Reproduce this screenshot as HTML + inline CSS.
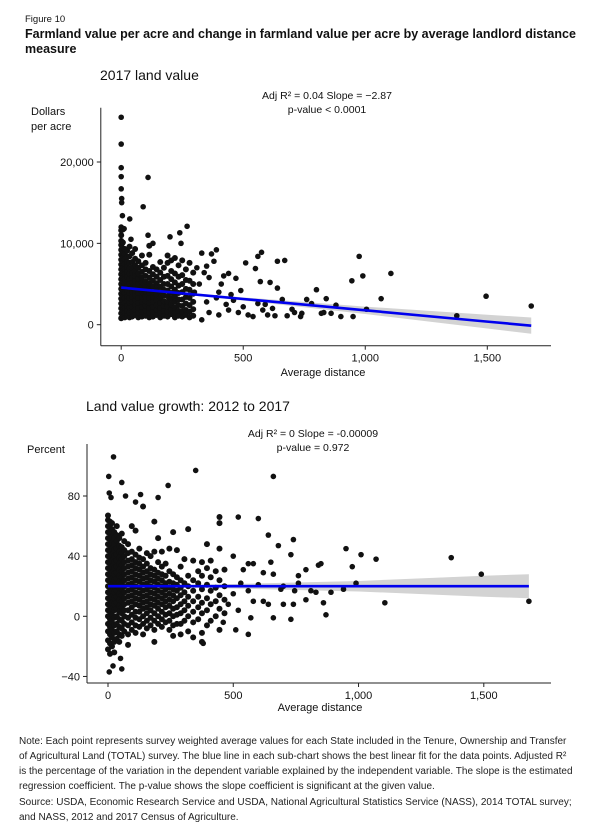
<!DOCTYPE html>
<html><head><meta charset="utf-8"><style>
html,body{margin:0;padding:0;background:#fff;}
svg{display:block;font-family:"Liberation Sans",Arial,sans-serif;}
</style></head><body>
<svg id="fig" width="600" height="833" viewBox="0 0 600 833" xmlns="http://www.w3.org/2000/svg">
<text x="25" y="22" font-size="9.5" fill="#111">Figure 10</text>
<text x="25" y="38" font-size="12.5" font-weight="bold" fill="#111">Farmland value per acre and change in farmland value per acre by average landlord distance</text>
<text x="25" y="53" font-size="12.5" font-weight="bold" fill="#111">measure</text>

<g id="c1">
<text x="100" y="80" font-size="14" fill="#111">2017 land value</text>
<text x="327" y="99" font-size="10.5" text-anchor="middle" fill="#111">Adj R² =  0.04  Slope = −2.87</text>
<text x="327" y="113" font-size="10.5" text-anchor="middle" fill="#111">p-value &lt; 0.0001</text>
<text x="31" y="115" font-size="11" fill="#111">Dollars</text>
<text x="31" y="130" font-size="11" fill="#111">per acre</text>
<text x="323" y="376" font-size="11" text-anchor="middle" fill="#111">Average distance</text>
</g>

<g id="c2">
<text x="86" y="411" font-size="14" fill="#111">Land value growth: 2012 to 2017</text>
<text x="313" y="437" font-size="10.5" text-anchor="middle" fill="#111">Adj R² =  0  Slope = -0.00009</text>
<text x="313" y="451" font-size="10.5" text-anchor="middle" fill="#111">p-value = 0.972</text>
<text x="27" y="453" font-size="11" fill="#111">Percent</text>
<text x="320" y="711" font-size="11" text-anchor="middle" fill="#111">Average distance</text>
</g>

<g font-size="10" fill="#222">
<text x="19" y="744">Note:  Each point represents survey weighted average values for each State included in the Tenure, Ownership and Transfer</text>
<text x="19" y="759">of Agricultural Land (TOTAL) survey. The blue line in each sub-chart shows the best linear fit for the data points. Adjusted R²</text>
<text x="19" y="774">is the percentage of the variation in the dependent variable explained by the independent variable. The slope is the estimated</text>
<text x="19" y="789">regression coefficient. The p-value shows the slope coefficient is significant at the given value.</text>
<text x="19" y="805">Source: USDA, Economic Research Service and USDA, National Agricultural Statistics Service (NASS), 2014 TOTAL survey;</text>
<text x="19" y="820">and NASS, 2012 and 2017 Census of Agriculture.</text>
</g>
</svg>
<script>
// ---------- Chart 1 data ----------
const c1XTicks = [0, 500, 1000, 1500];
const c1XTickLabels = ["0", "500", "1,000", "1,500"];
const c1YTicks = [0, 10000, 20000];
const c1YTickLabels = ["0", "10,000", "20,000"];
const c1ClusterX = [0,7,15,24,34,45,57,70,85,100,115,130,145,160,175,190,205,220,235,250,265,280,295];
const c1ClusterY = [
 [800,1400,2000,2600,3200,3800,4400,5000,5600,6200,6800,7400,8000,8600,9200,9800,10300,11000,11600],
 [1000,1600,2200,2800,3400,4000,4600,5200,5800,6400,7000,7600,8200,8800,9400,10100],
 [900,1500,2100,2700,3300,3900,4500,5100,5700,6300,6900,7500,8100,8700,9300],
 [1100,1700,2300,2900,3500,4100,4700,5300,5900,6500,7100,7700,8300,9100],
 [900,1500,2100,2700,3300,3900,4500,5100,5700,6300,6900,7600,8400,9600],
 [1000,1600,2200,2800,3400,4000,4600,5200,5800,6400,7000,7700,8800],
 [1200,1800,2400,3000,3600,4200,4800,5400,6000,6600,7300,8100,9300],
 [900,1500,2100,2700,3300,3900,4500,5100,5700,6300,7000,7800],
 [1000,1600,2200,2800,3400,4000,4600,5200,5800,6500,7300,8500],
 [1100,1700,2300,2900,3500,4100,4700,5300,6000,6800,7600],
 [900,1500,2100,2700,3300,3900,4500,5100,5800,6600,8600,9700],
 [1000,1600,2200,2800,3400,4000,4700,5400,6200,7100],
 [1200,1800,2400,3000,3700,4400,5100,5900,6800],
 [900,1500,2100,2700,3300,4000,4700,5500,6400,7700],
 [1100,1700,2300,2900,3600,4300,5000,5900,7000],
 [1000,1600,2200,2800,3500,4200,5000,6000,7600,8500],
 [1300,1900,2500,3200,3900,4700,5600,6600,7900],
 [900,1500,2100,2800,3500,4300,5200,6300,8200],
 [1100,1700,2400,3100,3900,4800,5900,7300],
 [1000,1600,2300,3100,4000,5000,6100,7900],
 [1200,1800,2600,3400,4400,5500,6800],
 [900,1600,2400,3300,4300,5400,7600],
 [1100,1900,2800,3800,5000,6400]
];
const c1OutX = [0,0,0,0,0,2,2,5,35,0,8,12,110,90,110,130,200,240,270,40,245,330,370,390,380,350,310,420,400,450,470,490,510,550,560,575,570,610,640,670,640,660,590,620,700,680,740,735,760,800,840,880,900,950,945,975,990,1005,1065,1105,1375,1495,1680,820,860,540,520,480,440,600,630,710,780,830,330,360,400,430,460,500,560,580,350,390,410,440,300,320,340,360];
const c1OutY = [25500,22200,19300,18200,16700,15500,15000,13400,13000,12000,11700,11800,18100,14500,11000,10000,10800,11300,12100,10500,10000,8800,8700,9200,7800,7200,7000,6000,4000,3700,5700,4200,7600,6900,8400,8900,5300,5200,7800,7900,4500,3100,2500,2000,1900,1100,1400,1000,3100,4300,3200,2400,1000,1000,5400,8400,6000,1900,3200,6300,1100,3500,2300,1400,1400,1000,1200,1500,1800,1200,1100,1500,2600,1500,600,1500,1200,2500,3000,2200,2600,1800,2800,3300,5000,6300,4000,5000,6400,5800];
const c1BandX = [0,150,500,1000,1500,1680];
const c1Fit = [4560,4140,3160,1770,380,-120];
const c1BandHalf = [250,120,200,450,850,1000];

// ---------- Chart 2 data ----------
const c2XTicks = [0, 500, 1000, 1500];
const c2XTickLabels = ["0", "500", "1,000", "1,500"];
const c2YTicks = [-40, 0, 40, 80];
const c2YTickLabels = ["−40", "0", "40", "80"];
const c2ClusterX = [0,8,16,25,35,45,55,65,80,95,110,125,140,155,170,185,200,215,230,245,260,275,290,305,320,340,360,375,395,410,430,445,465];
const c2ClusterY = [
 [-22,-16,-10,-5,0,4,8,12,16,20,24,28,32,36,40,44,48,52,56,60,64,67],
 [-25,-18,-12,-7,-2,3,7,11,15,19,23,27,31,35,39,43,47,51,55,59,63],
 [-20,-14,-9,-4,1,5,9,13,17,21,25,29,33,37,41,45,49,53,58,62],
 [-24,-17,-11,-6,-1,4,8,12,16,20,24,28,32,36,40,44,48,52,56],
 [-15,-10,-5,0,5,9,13,17,21,25,29,33,37,41,45,50,54,60],
 [-17,-12,-7,-2,3,7,11,15,19,23,27,31,35,39,43,47,52],
 [-13,-8,-3,2,6,10,14,18,22,26,30,34,38,42,46,55],
 [-10,-5,0,4,8,12,16,20,24,28,32,36,40,44,50],
 [-19,-12,-6,-1,4,9,13,17,21,25,29,33,37,42,48],
 [-9,-4,1,6,10,14,18,22,26,30,34,38,43,60],
 [-11,-6,-1,3,8,12,16,20,24,28,32,36,41,57],
 [-7,-2,3,7,11,15,19,23,27,31,35,39,45],
 [-12,-5,0,5,9,13,17,21,25,29,33,38,73],
 [-8,-3,2,6,10,14,18,22,26,30,35,42],
 [-6,-1,4,8,12,16,20,24,28,32,40],
 [-17,-9,-3,2,7,11,15,19,23,27,31,43,63],
 [-5,0,5,9,13,17,21,25,29,36,52],
 [-7,-2,3,8,12,16,20,24,28,33,43],
 [-4,1,6,10,14,18,22,27,35],
 [-9,-3,2,7,11,15,19,23,30,45],
 [-13,-6,0,5,10,14,18,22,28,56],
 [-5,1,6,12,17,21,26,44],
 [-12,-5,2,8,14,19,24,33],
 [-3,4,10,16,22,38],
 [-10,0,7,13,20,27,58],
 [-14,-4,3,10,17,24,37],
 [-2,6,13,22,30],
 [-17,-11,2,9,18,27,36],
 [-6,4,12,21,32,48],
 [-3,8,17,26,37],
 [0,10,19,30],
 [-9,5,14,24,45,62,66],
 [2,11,20,31]
];
const c2OutX = [22,3,55,240,350,660,5,70,200,130,110,12,520,600,640,740,680,730,950,1010,1070,1370,1490,1680,1105,975,840,790,760,830,890,860,870,730,660,560,380,5,20,55,50,500,540,560,580,620,650,660,700,600,580,620,640,700,740,790,570,520,480,500,530,560,940,990,745,760,810,850,690,510,460];
const c2OutY = [106,93,89,87,97,93,82,80,79,81,76,79,66,65,54,51,47,41,45,41,38,39,28,10,9,33,34,31,22,16,16,9,1,-2,-1,-12,-18,-37,-33,-35,-28,40,31,35,35,29,36,28,20,21,10,10,8,8,8,11,-1,4,8,15,22,17,18,22,17,27,17,35,18,-9,-4];
const c2BandX = [0,150,500,1000,1500,1680];
const c2Fit = [20,20,20,20,20,20];
const c2BandHalf = [1.5,0.6,1.5,3.5,7,8];

const NS = "http://www.w3.org/2000/svg";
function mk(tag, attrs, parent) {
  const e = document.createElementNS(NS, tag);
  for (const k in attrs) e.setAttribute(k, attrs[k]);
  parent.appendChild(e);
  return e;
}

function drawChart(g, cfg) {
  const sx = v => cfg.x0 + (v - cfg.xd0) * (cfg.x1 - cfg.x0) / (cfg.xd1 - cfg.xd0);
  const sy = v => cfg.y0 + (v - cfg.yd0) * (cfg.y1 - cfg.y0) / (cfg.yd1 - cfg.yd0);
  let d = "";
  cfg.bandX.forEach((x, i) => { d += (i ? "L" : "M") + sx(x) + "," + sy(cfg.fit[i] + cfg.half[i]); });
  for (let i = cfg.bandX.length - 1; i >= 0; i--) d += "L" + sx(cfg.bandX[i]) + "," + sy(cfg.fit[i] - cfg.half[i]);
  const band = mk("path", {d: d + "Z", fill: "#d3d3d3"}, g);
  
  
  const pts = mk("g", {fill: "#111"}, g);
  
  
  cfg.clX.forEach((x, i) => {
    cfg.clY[i].forEach(y => {
      const c = mk("circle", {cx: sx(x), cy: sy(y), r: 3.0}, pts);
      
      
    });
  });
  cfg.oX.forEach((x, i) => {
    const c = mk("circle", {cx: sx(x), cy: sy(cfg.oY[i]), r: 2.8}, pts);
    
    
  });
  let ld = "";
  cfg.bandX.forEach((x, i) => { ld += (i ? "L" : "M") + sx(x) + "," + sy(cfg.fit[i]); });
  const fl = mk("path", {d: ld, fill: "none", stroke: "#0000ee", "stroke-width": 2.6}, g);
  
  
  const ya = mk("line", {x1: cfg.ax, y1: cfg.axTop, x2: cfg.ax, y2: cfg.axBot, stroke: "#222", "stroke-width": 1}, g);
  
  
  const xa = mk("line", {x1: cfg.ax, y1: cfg.axBot, x2: 551, y2: cfg.axBot, stroke: "#222", "stroke-width": 1}, g);
  
  
  cfg.xT.forEach((v, i) => {
    const t = mk("line", {x1: sx(v), x2: sx(v), y1: cfg.axBot, y2: cfg.axBot + 4, stroke: "#222"}, g);
    
    
    const l = mk("text", {x: sx(v), y: cfg.axBot + 16, "font-size": 11, "text-anchor": "middle", fill: "#111"}, g);
    l.textContent = cfg.xL[i];
    
    
  });
  cfg.yT.forEach((v, i) => {
    const t = mk("line", {x1: cfg.ax - 4, x2: cfg.ax, y1: sy(v), y2: sy(v), stroke: "#222"}, g);
    
    
    const l = mk("text", {x: cfg.ax - 7, y: sy(v) + 4, "font-size": 11, "text-anchor": "end", fill: "#111"}, g);
    l.textContent = cfg.yL[i];
    
    
  });
}

drawChart(document.getElementById("c1"), {
  x0: 121.2, x1: 487.3, xd0: 0, xd1: 1500, y0: 324.7, y1: 162, yd0: 0, yd1: 20000,
  ax: 100.8, axTop: 107.7, axBot: 345.7,
  bandX: c1BandX, fit: c1Fit, half: c1BandHalf,
  clX: c1ClusterX, clY: c1ClusterY, oX: c1OutX, oY: c1OutY,
  xT: c1XTicks, xL: c1XTickLabels, yT: c1YTicks, yL: c1YTickLabels
});
drawChart(document.getElementById("c2"), {
  x0: 108, x1: 483.8, xd0: 0, xd1: 1500, y0: 616.3, y1: 496, yd0: 0, yd1: 80,
  ax: 87, axTop: 444, axBot: 683,
  bandX: c2BandX, fit: c2Fit, half: c2BandHalf,
  clX: c2ClusterX, clY: c2ClusterY, oX: c2OutX, oY: c2OutY,
  xT: c2XTicks, xL: c2XTickLabels, yT: c2YTicks, yL: c2YTickLabels
});
</script>
</body></html>
